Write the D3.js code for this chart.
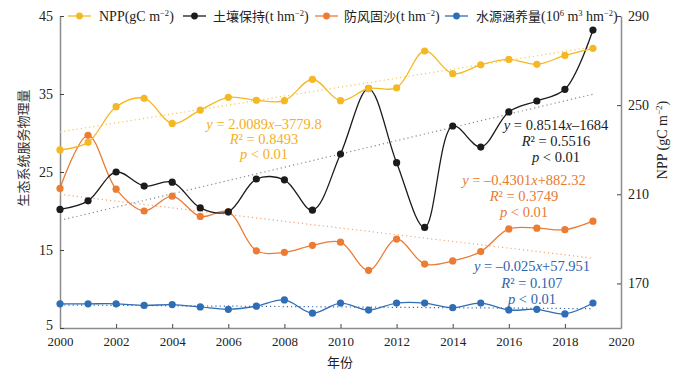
<!DOCTYPE html>
<html><head><meta charset="utf-8">
<script src="https://cdn.jsdelivr.net/npm/d3@7"></script>
<style>body{margin:0;background:#fff}</style>
</head><body><svg id="c" width="687" height="375"></svg>
<script>
const years = [2000,2001,2002,2003,2004,2005,2006,2007,2008,2009,2010,2011,2012,2013,2014,2015,2016,2017,2018,2019];
const npp   = [229.9,233.3,249.3,253.1,241.8,247.8,253.5,252.2,252.0,261.6,252.0,257.5,257.8,274.3,264.1,268.1,270.5,268.3,272.3,275.5];
const soil  = [20.2,21.3,25.0,23.2,23.7,20.4,19.9,24.1,24.0,20.1,27.3,35.7,26.2,17.9,30.9,28.2,32.7,34.1,35.6,43.2];
const sand  = [22.9,29.7,22.8,20.0,21.9,19.3,19.9,14.9,14.7,15.6,16.0,12.4,16.4,13.2,13.6,14.8,17.7,17.8,17.6,18.7];
const water = [8.1,8.1,8.1,7.9,8.0,7.7,7.4,7.8,8.6,6.9,8.2,7.3,8.2,8.2,7.6,8.2,7.3,7.4,6.8,8.2];
const xTicks = [2000,2002,2004,2006,2008,2010,2012,2014,2016,2018,2020];
const leftTicks = [5,15,25,35,45];
const rightTicks = [170,210,250,290];
// trend coefficients [slope, intercept]
const trendNpp = [2.0089, -3779.8];
const trendSoil = [0.8514, -1684];
const trendSand = [-0.4301, 882.32];
const trendWater = [-0.025, 57.951];

const svg = d3.select("#c");
const L = 60, R = 621, T = 16, B = 328;
const x = d3.scaleLinear().domain([2000,2020]).range([L,R]);
const yL = d3.scaleLinear().domain([5,45]).range([B,T]);
const yR = d3.scaleLinear().domain([150,290]).range([B,T]);
const serif = "'Liberation Serif','Times New Roman',serif";
const cjk = "'Noto Sans CJK SC',sans-serif";
const axisCol = "#8c8c8c";

const C = {npp:"#f5b823", soil:"#1b1b1b", sand:"#ec7b33", water:"#2f6db5"};

function styleAxis(g){
  g.select(".domain").attr("stroke",axisCol).attr("stroke-width",1.5);
  g.selectAll(".tick line").attr("stroke","#444").attr("stroke-width",1);
  g.selectAll(".tick text").attr("font-family",serif).attr("fill","#222");
}
svg.append("g").attr("transform",`translate(0,${B})`)
  .call(d3.axisBottom(x).tickValues(xTicks).tickFormat(d3.format("d")).tickSize(-4).tickPadding(9).tickSizeOuter(0))
  .call(styleAxis).call(g=>g.selectAll(".tick text").attr("font-size",13));
svg.append("g").attr("transform",`translate(${L},0)`)
  .call(d3.axisLeft(yL).tickValues(leftTicks).tickSize(-4).tickPadding(7).tickSizeOuter(0))
  .call(styleAxis).call(g=>g.selectAll(".tick text").attr("font-size",14)
    .attr("dy",d=>d===5?"0.1em":"0.3em"));
svg.append("g").attr("transform",`translate(${R},0)`)
  .call(d3.axisRight(yR).tickValues(rightTicks).tickSize(-4).tickPadding(7).tickSizeOuter(0))
  .call(styleAxis).call(g=>g.selectAll(".tick text").attr("font-size",14));

// axis titles
svg.append("text").attr("x",340).attr("y",367).attr("text-anchor","middle")
  .attr("font-family",cjk).attr("font-size",13).attr("fill","#222").text("年份");
svg.append("text").attr("transform","translate(28,148) rotate(-90)").attr("text-anchor","middle")
  .attr("font-family",cjk).attr("font-size",13).attr("fill","#333").text("生态系统服务物理量");
const rt = svg.append("text").attr("transform","translate(667,140) rotate(-90)").attr("text-anchor","middle")
  .attr("font-family",serif).attr("font-size",14).attr("fill","#222");
rt.append("tspan").text("NPP (gC m");
rt.append("tspan").attr("font-size",9).attr("dy",-5).text("−2");
rt.append("tspan").attr("dy",5).text(")");

// trend lines
function trend(coef, ys, col){
  svg.append("line")
    .attr("x1",x(2000)).attr("x2",x(2019))
    .attr("y1",ys(coef[0]*2000+coef[1])).attr("y2",ys(coef[0]*2019+coef[1]))
    .attr("stroke",col).attr("stroke-width",1.2).attr("stroke-dasharray","1.2,3");
}
trend(trendNpp, yR, "#f6c655");
trend(trendSoil, yL, "#8a8a8a");
trend(trendSand, yL, "#f2a777");
trend(trendWater, yL, "#3a6aa8");

function series(vals, ys, col){
  const line = d3.line().x((d,i)=>x(years[i])).y(d=>ys(d)).curve(d3.curveCatmullRom.alpha(0.5));
  svg.append("path").attr("d",line(vals)).attr("fill","none").attr("stroke",col).attr("stroke-width",1.3);
  svg.append("g").selectAll("circle").data(vals).join("circle")
    .attr("cx",(d,i)=>x(years[i])).attr("cy",d=>ys(d)).attr("r",3.6).attr("fill",col);
}
series(water, yL, C.water);
series(sand, yL, C.sand);
series(soil, yL, C.soil);
series(npp, yR, C.npp);

// legend
const legend = [
  {lx:68, tx:99, col:C.npp, parts:[["NPP(gC m",0],["−2",1],[")",0]]},
  {lx:183, tx:213, col:C.soil, parts:[["土壤保持",2],["(t hm",0],["−2",1],[")",0]]},
  {lx:315, tx:344, col:C.sand, parts:[["防风固沙",2],["(t hm",0],["−2",1],[")",0]]},
  {lx:445, tx:476, col:C.water, parts:[["水源涵养量",2],["(10",0],["6",1],[" m",0],["3",1],[" hm",0],["−2",1],[")",0]]}
];
legend.forEach(it=>{
  svg.append("line").attr("x1",it.lx).attr("x2",it.lx+23).attr("y1",16).attr("y2",16)
    .attr("stroke",it.col).attr("stroke-width",1.3);
  svg.append("circle").attr("cx",it.lx+11.5).attr("cy",16).attr("r",3.4).attr("fill",it.col);
  const t = svg.append("text").attr("x",it.tx).attr("y",21).attr("font-family",serif)
    .attr("font-size",14).attr("fill","#222");
  let up=false;
  it.parts.forEach(p=>{
    const s = t.append("tspan").text(p[0]);
    if(p[1]===1){ s.attr("font-size",8.5).attr("dy",-5); up=true; }
    else { if(up){ s.attr("dy",5); up=false; } if(p[1]===2) s.attr("font-family",cjk).attr("font-size",13); }
  });
});

// annotations
function annot(cx, cys, col, lines){
  lines.forEach((ln,i)=>{
    const t = svg.append("text").attr("x",cx).attr("y",cys[i]+5).attr("text-anchor","middle")
      .attr("font-family",serif).attr("font-size",14.5).attr("fill",col);
    ln.forEach(p=>{
      const s=t.append("tspan").text(p[0]);
      if(p[1]) s.attr("font-style","italic");
    });
  });
}
annot(264,[124,139,154],"#f3b022",[
  [["y",1],[" = 2.0089",0],["x",1],["–3779.8",0]],
  [["R",1],["² = 0.8493",0]],
  [["p",1],[" < 0.01",0]]]);
annot(556,[125,141,157],"#1b1b1b",[
  [["y",1],[" = 0.8514",0],["x",1],["–1684",0]],
  [["R",1],["² = 0.5516",0]],
  [["p",1],[" < 0.01",0]]]);
annot(524,[180,196,212],"#e97a33",[
  [["y",1],[" = –0.4301",0],["x",1],["+882.32",0]],
  [["R",1],["² = 0.3749",0]],
  [["p",1],[" < 0.01",0]]]);
annot(532,[266,283,299],"#2f63ad",[
  [["y",1],[" = –0.025",0],["x",1],["+57.951",0]],
  [["R",1],["² = 0.107",0]],
  [["p",1],[" < 0.01",0]]]);
</script></body></html>
